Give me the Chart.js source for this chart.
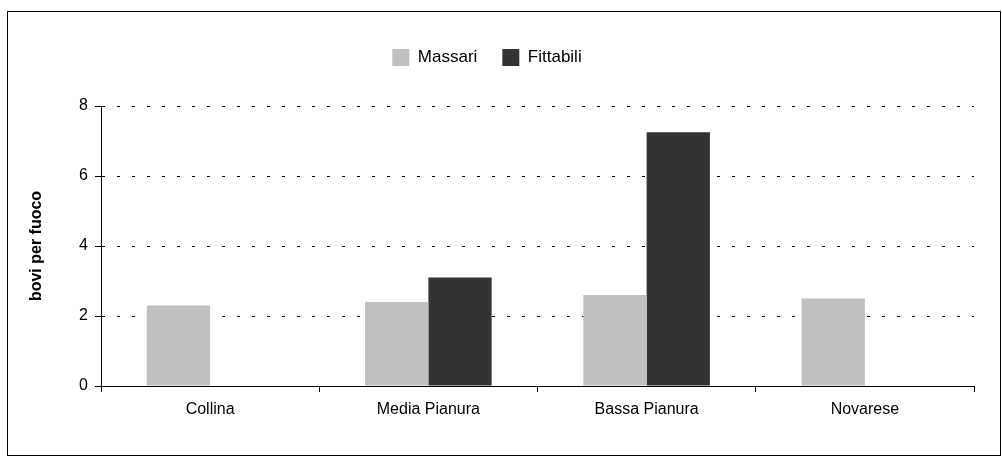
<!DOCTYPE html>
<html>
<head>
<meta charset="utf-8">
<script src="https://cdn.jsdelivr.net/npm/chart.js@4/dist/chart.umd.min.js"></script>
<style>
  html, body { margin: 0; padding: 0; background: #fff; }
  #wrap { position: relative; width: 1002px; height: 457px; }
  #frame { position: absolute; left: 7px; top: 11px; width: 994px; height: 445px; border: 1px solid #000; box-sizing: border-box; pointer-events: none; }
  canvas { position: absolute; left: 0; top: 0; }
</style>
</head>
<body>
<div id="wrap">
  <canvas id="c" width="1002" height="457"></canvas>
  <div id="frame"></div>
</div>
<script>
const categories = ["Collina", "Media Pianura", "Bassa Pianura", "Novarese"];
const massari = [2.3, 2.4, 2.6, 2.5];
const fittabili = [null, 3.1, 7.25, null];
const seriesNames = ["Massari", "Fittabili"];
const yTicks = [0, 2, 4, 6, 8];
const yTitle = "bovi per fuoco";

const FONT = "'Liberation Sans', Arial, sans-serif";
const FS = 16;

new Chart(document.getElementById('c'), {
  type: 'bar',
  data: {
    labels: categories,
    datasets: [
      { label: seriesNames[0], data: massari, backgroundColor: '#c0c0c0', borderWidth: 0,
        categoryPercentage: 0.58, barPercentage: 1.0 },
      { label: seriesNames[1], data: fittabili, backgroundColor: '#333333', borderWidth: 0,
        categoryPercentage: 0.58, barPercentage: 1.0 }
    ]
  },
  options: {
    responsive: false,
    animation: false,
    events: [],
    layout: { padding: { left: 0, right: 28, top: 24, bottom: 41 } },
    plugins: {
      tooltip: { enabled: false },
      legend: {
        display: true,
        position: 'top',
        align: 'center',
        labels: {
          color: '#000',
          font: { family: FONT, size: 17 },
          boxWidth: 17,
          boxHeight: 17,
          padding: 25
        }
      },
      subtitle: {
        display: true,
        position: 'top',
        weight: 500,
        text: ' ',
        font: { size: 1 },
        padding: { top: 28.8, bottom: 0 }
      }
    },
    scales: {
      x: {
        afterFit: (s) => { s.height = 30; },
        grid: { display: true, offset: true, drawOnChartArea: false, drawTicks: true,
                tickLength: 6, tickColor: '#000', tickWidth: 1 },
        border: { display: true, color: '#000', width: 1 },
        ticks: { color: '#000', font: { family: FONT, size: FS }, padding: 8, maxRotation: 0 }
      },
      y: {
        min: 0, max: 8,
        afterFit: (s) => { s.width = 101; },
        afterBuildTicks: (s) => { s.ticks = yTicks.map(v => ({ value: v })); },
        grid: { display: true, drawOnChartArea: true, drawTicks: true, color: '#000', lineWidth: 1,
                tickLength: 6, tickColor: '#000', tickWidth: 1, tickBorderDash: [] },
        border: { display: true, color: '#000', width: 1, dash: [3, 12] },
        ticks: { color: '#000', font: { family: FONT, size: FS }, padding: 7, stepSize: 2 },
        title: { display: true, text: yTitle, color: '#000',
                 font: { family: FONT, size: FS, weight: 'bold' }, padding: { top: 27, bottom: 0 } }
      }
    }
  }
});
</script>
</body>
</html>
